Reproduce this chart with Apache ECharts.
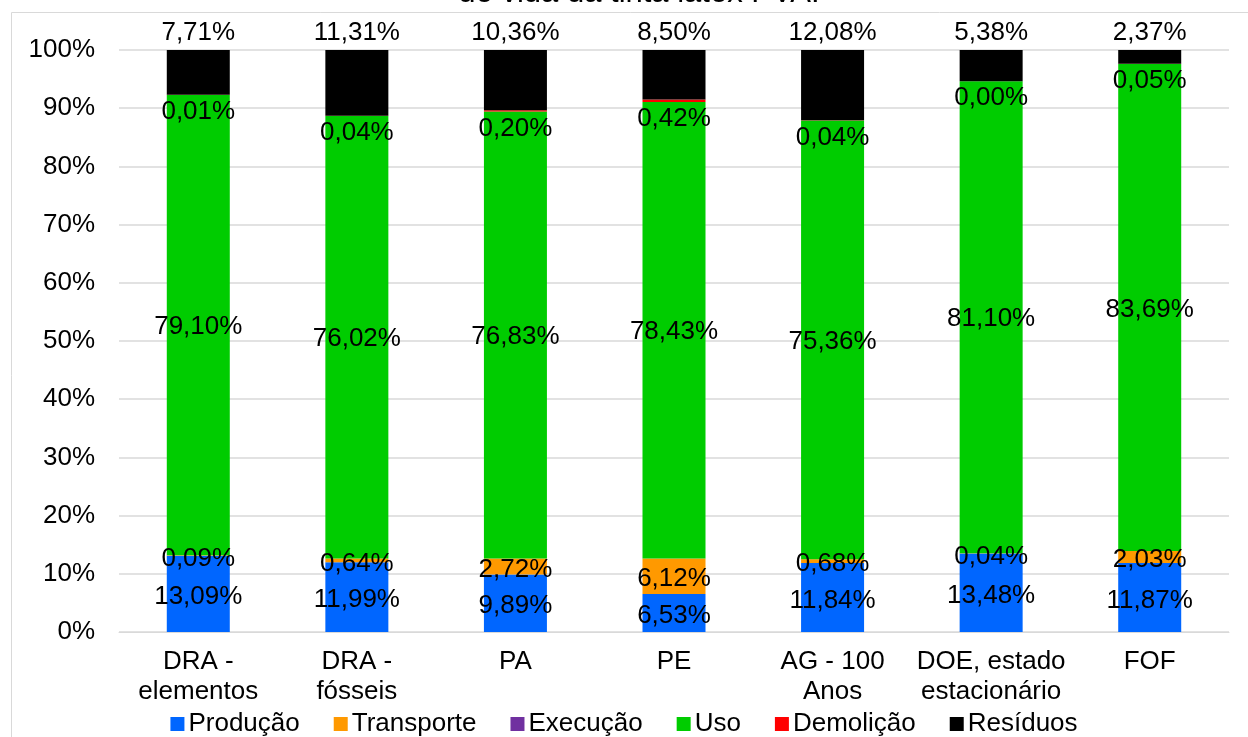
<!DOCTYPE html>
<html>
<head>
<meta charset="utf-8">
<script src="https://cdn.jsdelivr.net/npm/echarts@6/dist/echarts.min.js"></script>
<style>
  html, body { margin: 0; padding: 0; background: #fff; }
  #chart { width: 1248px; height: 737px; }
</style>
</head>
<body>
<div id="chart"></div>
<script>
const categories = ['DRA -\nelementos', 'DRA -\nfósseis', 'PA', 'PE', 'AG - 100\nAnos', 'DOE, estado\nestacionário', 'FOF']

const producao = [13.09, 11.99, 9.89, 6.53, 11.84, 13.48, 11.87]
const transporte = [0.09, 0.64, 2.72, 6.12, 0.68, 0.04, 2.03]
const execucao = [0, 0, 0, 0, 0, 0, 0]
const uso = [79.10, 76.02, 76.83, 78.43, 75.36, 81.10, 83.69]
const demolicao = [0.01, 0.04, 0.20, 0.42, 0.04, 0.00, 0.05]
const residuos = [7.71, 11.31, 10.36, 8.50, 12.08, 5.38, 2.37]

const yTicks = { min: 0, max: 100, interval: 10 }

const font = '"Liberation Sans", Arial, sans-serif'
const fmt = (p) => p.value.toFixed(2).replace('.', ',') + '%'

const chart = echarts.init(document.getElementById('chart'))

const baseLabel = {
	show: true,
	position: 'inside',
	color: '#000',
	fontSize: 26,
	fontFamily: font,
	formatter: fmt
}

const mkSeries = (name, data, color, label) => ({
	name,
	type: 'bar',
	stack: 'total',
	barWidth: 63,
	data,
	itemStyle: { color },
	label,
	emphasis: { disabled: true }
})

const options = {
	animation: false,
	textStyle: { fontFamily: font },
	title: {
		text: 'de vida da tinta látex PVA.',
		left: 634,
		textAlign: 'center',
		top: -27,
		textStyle: { fontSize: 31, fontWeight: 'normal', color: '#000', fontFamily: font }
	},
	graphic: [
		{
			type: 'rect',
			shape: { x: 11.5, y: 12.5, width: 1300, height: 800 },
			style: { fill: 'none', stroke: '#d9d9d9', lineWidth: 1 },
			silent: true
		}
	],
	legend: {
		top: 706,
		left: 'center',
		itemWidth: 14,
		itemHeight: 14,
		itemGap: 34,
		icon: 'rect',
		textStyle: { fontSize: 26, color: '#000', fontFamily: font, padding: [0, 0, 0, -1] },
		data: ['Produção', 'Transporte', 'Execução', 'Uso', 'Demolição', 'Resíduos']
	},
	grid: {
		left: 119,
		right: 19,
		top: 50,
		bottom: 105
	},
	xAxis: {
		type: 'category',
		data: categories,
		axisLine: { lineStyle: { color: '#d9d9d9' } },
		axisTick: { show: false },
		axisLabel: {
			interval: 0,
			margin: 15,
			fontSize: 26,
			lineHeight: 30,
			color: '#000',
			fontFamily: font
		}
	},
	yAxis: {
		type: 'value',
		min: yTicks.min,
		max: yTicks.max,
		interval: yTicks.interval,
		axisLine: { show: false },
		axisTick: { show: false },
		axisLabel: {
			margin: 24,
			fontSize: 26,
			color: '#000',
			fontFamily: font,
			formatter: '{value}%'
		},
		splitLine: { lineStyle: { color: '#d9d9d9', width: 1.5 } }
	},
	series: [
		mkSeries('Produção', producao, '#0066ff', { ...baseLabel, offset: [0, 3] }),
		mkSeries('Transporte', transporte, '#ff9900', { ...baseLabel, offset: [0, 3] }),
		mkSeries('Execução', execucao, '#7030a0', { show: false }),
		mkSeries('Uso', uso, '#00cc00', { ...baseLabel, offset: [0, 2] }),
		mkSeries('Demolição', demolicao, '#ff0000', { ...baseLabel, position: 'bottom', distance: 4 }),
		mkSeries('Resíduos', residuos, '#000000', { ...baseLabel, position: 'top', distance: 4 })
	]
}

chart.setOption(options)
</script>
</body>
</html>
